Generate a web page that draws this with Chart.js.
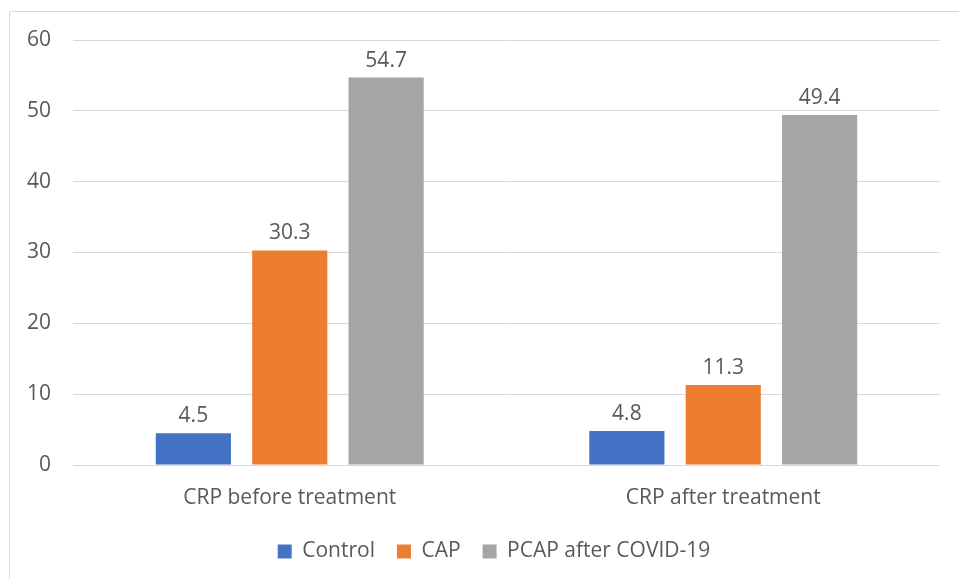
<!DOCTYPE html>
<html>
<head>
<meta charset="utf-8">
<script src="https://cdn.jsdelivr.net/npm/chart.js@4.4.1/dist/chart.umd.min.js"></script>
<style>
  html, body { margin: 0; padding: 0; background: #fff; }
  #wrap { width: 959px; height: 579px; }
</style>
</head>
<body>
<div id="wrap"><canvas id="crpChart" width="959" height="579"></canvas></div>
<script>
const categories = ["CRP before treatment", "CRP after treatment"];
const controlValues = [4.5, 4.8];
const capValues = [30.3, 11.3];
const pcapValues = [54.7, 49.4];
const yTicks = [0, 10, 20, 30, 40, 50, 60];

const textColor = "#595959";
const fontFamily = "'Open Sans', 'Liberation Sans', sans-serif";
const fontSize = 21;

// light frame around the chart (left and top edges only are visible)
const framePlugin = {
  id: "frame",
  beforeDraw(chart) {
    const ctx = chart.ctx;
    ctx.save();
    ctx.strokeStyle = "#d9d9d9";
    ctx.lineWidth = 1;
    ctx.beginPath();
    ctx.moveTo(9.5, chart.height);
    ctx.lineTo(9.5, 11.5);
    ctx.lineTo(chart.width, 11.5);
    ctx.stroke();
    ctx.restore();
  },
};

// nudge the legend a little to the right, like the original
const legendShift = {
  id: "legendShift",
  afterLayout(chart) {
    chart.legend.left += 24;
    chart.legend.right += 24;
  },
};

// value labels above each bar
const valueLabels = {
  id: "valueLabels",
  afterDatasetsDraw(chart) {
    const ctx = chart.ctx;
    ctx.save();
    ctx.fillStyle = textColor;
    ctx.font = fontSize + "px " + fontFamily;
    ctx.textAlign = "center";
    ctx.textBaseline = "middle";
    chart.data.datasets.forEach((ds, i) => {
      chart.getDatasetMeta(i).data.forEach((bar, j) => {
        ctx.fillText(ds.data[j].toFixed(1), bar.x, bar.y - 17);
      });
    });
    ctx.restore();
  },
};

new Chart(document.getElementById("crpChart").getContext("2d"), {
  type: "bar",
  data: {
    labels: categories,
    datasets: [
      { label: "Control", data: controlValues, backgroundColor: "#4472C4" },
      { label: "CAP", data: capValues, backgroundColor: "#ED7D31" },
      { label: "PCAP after COVID-19", data: pcapValues, backgroundColor: "#A5A5A5" },
    ],
  },
  options: {
    responsive: false,
    animation: false,
    categoryPercentage: 0.667,
    barPercentage: 0.78,
    layout: { padding: { top: 40, right: 19, bottom: 7, left: 0 } },
    scales: {
      x: {
        grid: { display: false },
        border: { display: false },
        ticks: { color: textColor, font: { size: fontSize, family: fontFamily }, padding: 12 },
        afterFit(scale) { scale.height = 54; },
      },
      y: {
        min: 0,
        max: 60,
        afterBuildTicks(scale) { scale.ticks = yTicks.map((v) => ({ value: v })); },
        grid: { color: "#d9d9d9", drawTicks: false },
        border: { display: false },
        ticks: { color: textColor, font: { size: fontSize, family: fontFamily }, padding: 22 },
        afterFit(scale) { scale.width = 73; },
      },
    },
    plugins: {
      legend: {
        position: "bottom",
        labels: {
          color: textColor,
          font: { size: fontSize, family: fontFamily },
          boxWidth: 14,
          boxHeight: 14,
          padding: 22,
        },
      },
      tooltip: { enabled: false },
    },
  },
  plugins: [framePlugin, legendShift, valueLabels],
});
</script>
</body>
</html>
